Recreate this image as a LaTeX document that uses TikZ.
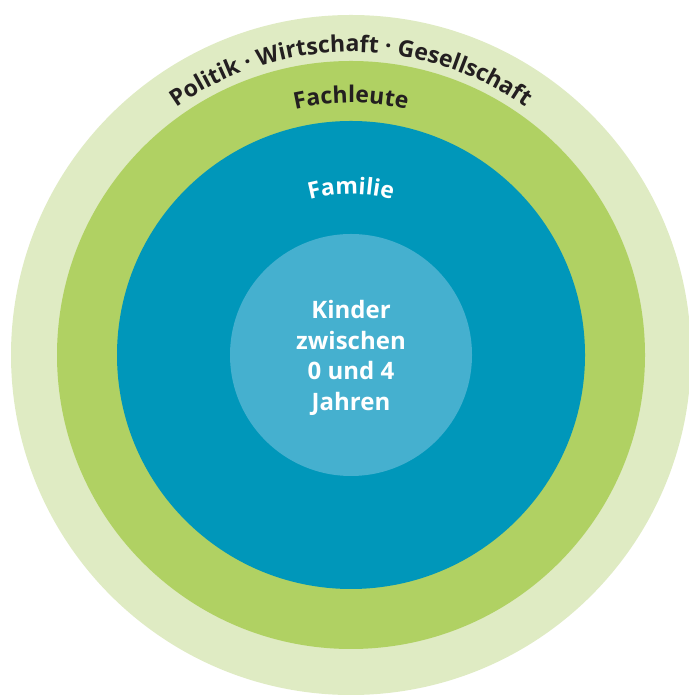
\documentclass[tikz,border=0pt]{standalone}
\usepackage{fontspec}
\setmainfont{Open Sans}
\usetikzlibrary{decorations.text}
\definecolor{societygreen}{HTML}{DFEBC3}
\definecolor{expertgreen}{HTML}{B0D163}
\definecolor{familyblue}{HTML}{0097BA}
\definecolor{childblue}{HTML}{45B0CF}
\definecolor{labeldark}{HTML}{231F20}
\newcommand\ringfont{\fontsize{23}{27}\selectfont\bfseries}
\tikzstyle{kinderlabel} = [text=white, align=center, font=\fontsize{24}{30.5}\selectfont\bfseries]

\begin{document}
\begin{tikzpicture}[x=1pt, y=1pt]
    \useasboundingbox (0,0) rectangle (688,695);
    \coordinate (c) at (351,340);

    % rings from outside in
    \fill[societygreen] (c) circle[radius=340pt];
    \fill[expertgreen]  (c) circle[radius=294pt];
    \fill[familyblue]   (c) circle[radius=234pt];
    \fill[childblue]    (c) circle[radius=121pt];

    % curved labels
    \path[decorate, decoration={text along path, text align=center, text color=labeldark,
        text={|\ringfont|Politik · Wirtschaft · Gesellschaft}}]
        ([shift={(150:303pt)}]c) arc[start angle=150, end angle=30, radius=303pt];
    \path[decorate, decoration={text along path, text align=center, text color=labeldark,
        text={|\ringfont|Fachleute}}]
        ([shift={(150:252pt)}]c) arc[start angle=150, end angle=30, radius=252pt];
    \path[decorate, decoration={text along path, text align=center, text color=white,
        text={|\ringfont|Familie}}]
        ([shift={(150:161pt)}]c) arc[start angle=150, end angle=30, radius=161pt];

    \node[kinderlabel] (kinder) at ([yshift=-3pt]c) {Kinder\\zwischen\\0 und 4\\Jahren};
\end{tikzpicture}
\end{document}
